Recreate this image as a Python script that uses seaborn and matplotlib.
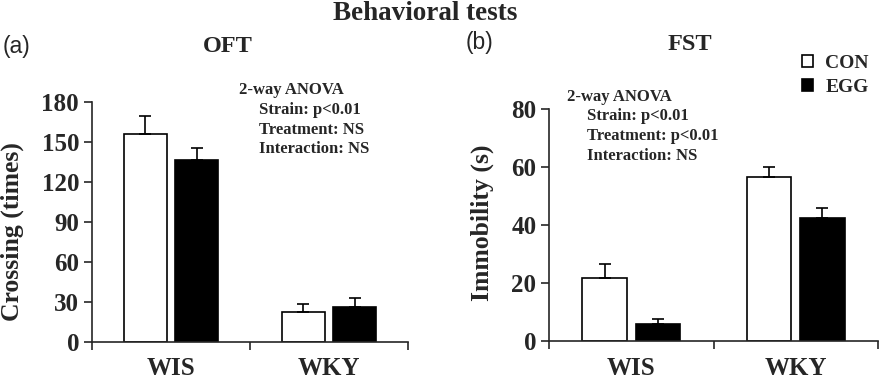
import matplotlib
matplotlib.use("Agg")
import matplotlib.pyplot as plt
import pandas as pd
import seaborn as sns

# Data (means and upper SEM)
strains = ["WIS", "WKY"]
groups = ["CON", "EGG"]

oft_con = [156, 22]
oft_egg = [136, 26]
oft_con_err = [13, 6]
oft_egg_err = [9.5, 7]

fst_con = [22, 56.5]
fst_egg = [6, 42.5]
fst_con_err = [4.8, 3.5]
fst_egg_err = [1.7, 3.5]

oft_stats = ["2-way ANOVA", "Strain: p<0.01", "Treatment: NS", "Interaction: NS"]
fst_stats = ["2-way ANOVA", "Strain: p<0.01", "Treatment: p<0.01", "Interaction: NS"]

sns.set_style("ticks")
plt.rcParams["font.family"] = ["Liberation Serif", "DejaVu Serif"]
plt.rcParams["font.weight"] = "bold"
plt.rcParams["axes.linewidth"] = 1.2

W, H = 882, 381
fig = plt.figure(figsize=(W / 100, H / 100), dpi=100)


def px(x, y):
    # pixel (from top-left) to figure fraction
    return x / W, 1 - y / H


def make_df(con, egg):
    return pd.DataFrame({
        "strain": strains * 2,
        "group": [groups[0]] * 2 + [groups[1]] * 2,
        "value": list(con) + list(egg),
    })


def draw_panel(ax, con, egg, con_err, egg_err, ymax, ystep, ylabel, legend):
    df = make_df(con, egg)
    sns.barplot(data=df, x="strain", y="value", hue="group", hue_order=groups,
                palette={"CON": "white", "EGG": "black"}, edgecolor="black",
                linewidth=1.2, width=0.652, gap=0.17, errorbar=None,
                legend=legend, ax=ax)

    # upward-only error bars on top of each bar
    for bars, errs in zip(ax.containers, [con_err, egg_err]):
        for bar, e in zip(bars, errs):
            xc = bar.get_x() + bar.get_width() / 2
            ax.errorbar(xc, bar.get_height(), yerr=[[0], [e]], fmt="none",
                        ecolor="black", elinewidth=1.2, capsize=4.3,
                        capthick=1.2, zorder=1)

    ax.set_xlim(-0.5, 1.5)
    ax.set_ylim(0, ymax)
    ax.set_yticks(range(0, ymax + 1, ystep))
    ax.set_xticks([-0.5, 0.5, 1.5], minor=True)
    ax.tick_params(axis="x", which="major", length=0, pad=11, labelsize=18)
    ax.tick_params(axis="x", which="minor", length=5.8, width=1.2,
                   direction="out")
    ax.tick_params(axis="y", length=5.8, width=1.2, pad=3.5, labelsize=18)
    for t in ax.get_xticklabels() + ax.get_yticklabels():
        t.set_fontweight("bold")
    ax.set_xlabel("")
    ax.set_ylabel(ylabel, fontsize=18.5, fontweight="bold")
    sns.despine(ax=ax)


# Left panel: OFT
ax1 = fig.add_axes([92 / W, 39.3 / H, 316 / W, 240 / H])
draw_panel(ax1, oft_con, oft_egg, oft_con_err, oft_egg_err, 180, 30,
           "Crossing (times)", False)
ax1.yaxis.set_label_coords(-0.215, 0.46)

# Right panel: FST
ax2 = fig.add_axes([549.3 / W, 39.7 / H, 328.4 / W, 232 / H])
draw_panel(ax2, fst_con, fst_egg, fst_con_err, fst_egg_err, 80, 20,
           "Immobility (s)", True)
ax2.yaxis.set_label_coords(-0.168, 0.51)

# rebuild the legend from seaborn's handles so the labels can be bold
old = ax2.get_legend()
handles = old.legend_handles
labels = [t.get_text() for t in old.get_texts()]
old.remove()
leg = ax2.legend(handles, labels, loc="upper left", bbox_to_anchor=px(802, 55),
                 bbox_transform=fig.transFigure, frameon=False, fontsize=14,
                 handlelength=0.55, handleheight=0.55, handletextpad=0.65,
                 labelspacing=0.35, borderpad=0, borderaxespad=0)
for t in leg.get_texts():
    t.set_fontweight("bold")
    t.set_fontfamily("Liberation Serif")

# Titles and panel letters
fig.text(*px(425, 13), "Behavioral tests", ha="center", va="center",
         fontsize=19.5, fontweight="bold")
fig.text(*px(3, 46), "(a)", ha="left", va="center", fontsize=16.5,
         family="Liberation Sans", fontweight="normal")
fig.text(*px(466, 43), "(b)", ha="left", va="center", fontsize=16.5,
         family="Liberation Sans", fontweight="normal")
fig.text(*px(228, 46), "OFT", ha="center", va="center", fontsize=17.5,
         fontweight="bold")
fig.text(*px(690, 44), "FST", ha="center", va="center", fontsize=17.5,
         fontweight="bold")

# ANOVA annotations
for (x0, y0), lines in [((239, 90), oft_stats), ((567, 96.7), fst_stats)]:
    for i, line in enumerate(lines):
        x = x0 if i == 0 else x0 + 20
        fig.text(*px(x, y0 + i * 19.8), line, ha="left", va="center",
                 fontsize=12, fontweight="bold")

fig.savefig("out.png", dpi=100)
